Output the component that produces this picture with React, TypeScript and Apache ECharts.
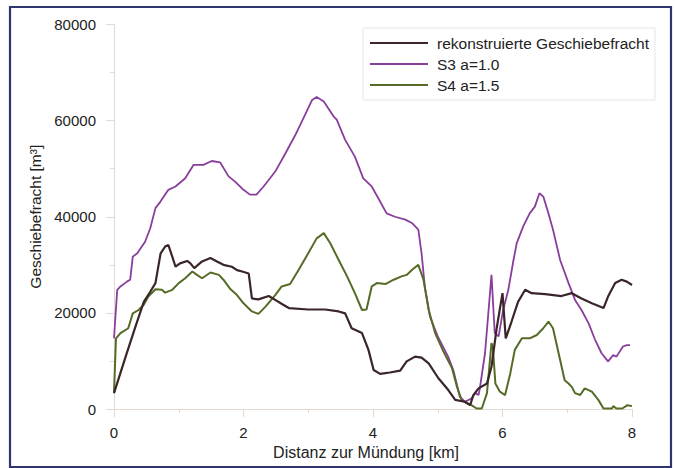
import React, { useEffect, useRef } from "react";
import * as echarts from "echarts";

// [km, m³]
const rekonstruiertData: [number, number][] = [
  [0, 3300], [0.18, 10900], [0.33, 17100], [0.46, 22300], [0.56, 24400], [0.64, 26200],
  [0.72, 32400], [0.79, 33800], [0.84, 34100], [0.9, 31700], [0.95, 29600], [1.02, 30300],
  [1.13, 30800], [1.18, 30300], [1.24, 29300], [1.36, 30700], [1.49, 31400], [1.59, 30700],
  [1.69, 30000], [1.82, 29600], [1.9, 28900], [1.98, 28600], [2.08, 28200], [2.13, 23000],
  [2.23, 22800], [2.39, 23500], [2.49, 22700], [2.6, 21800], [2.7, 21000], [3.0, 20700],
  [3.26, 20700], [3.47, 20300], [3.57, 19900], [3.67, 16800], [3.83, 15800], [3.93, 12300],
  [4.01, 8100], [4.11, 7300], [4.26, 7600], [4.42, 8000], [4.52, 9900], [4.65, 10900],
  [4.75, 10700], [4.86, 9500], [5.01, 6400], [5.16, 4000], [5.27, 1900], [5.42, 1500],
  [5.5, 800], [5.55, 2900], [5.63, 4300], [5.76, 5300], [5.83, 8800], [5.91, 16800],
  [6.0, 24100], [6.05, 14700], [6.14, 18200], [6.24, 22300], [6.35, 24800], [6.45, 24100],
  [6.66, 23900], [6.91, 23500], [7.07, 24100], [7.22, 23000], [7.38, 22000], [7.56, 21000],
  [7.63, 23400], [7.74, 26200], [7.84, 26900], [7.92, 26500], [8.0, 25800],
];

const s3Data: [number, number][] = [
  [0, 14700], [0.05, 24800], [0.1, 25500], [0.2, 26500], [0.25, 26900], [0.29, 31700],
  [0.36, 32400], [0.43, 33800], [0.48, 34800], [0.56, 37600], [0.64, 41800], [0.72, 43200],
  [0.84, 45600], [0.95, 46300], [1.1, 48000], [1.23, 50800], [1.38, 50800], [1.51, 51600],
  [1.64, 51300], [1.77, 48400], [1.87, 47300], [2.0, 45600], [2.1, 44600], [2.2, 44600],
  [2.31, 46300], [2.41, 48000], [2.49, 49400], [2.64, 53000], [2.8, 57000], [2.95, 61200],
  [3.06, 64300], [3.13, 64900], [3.24, 64000], [3.39, 60900], [3.44, 60200], [3.57, 56000],
  [3.72, 52500], [3.85, 48000], [3.98, 46300], [4.08, 43900], [4.21, 40700], [4.34, 40000],
  [4.5, 39400], [4.6, 38700], [4.7, 37300], [4.75, 32400], [4.8, 25500], [4.88, 19200],
  [5.0, 15100], [5.16, 10900], [5.24, 8100], [5.34, 2600], [5.42, 1500], [5.52, 2200],
  [5.58, 3300], [5.63, 2900], [5.65, 4300], [5.73, 11600], [5.83, 27900], [5.88, 15800],
  [5.94, 15100], [6.01, 20600], [6.09, 24800], [6.17, 31000], [6.22, 34500], [6.32, 38000],
  [6.42, 40700], [6.5, 42100], [6.57, 44900], [6.63, 44200], [6.71, 40700], [6.78, 37300],
  [6.89, 31000], [7.02, 26200], [7.12, 22700], [7.22, 20600], [7.33, 17800], [7.43, 14400],
  [7.53, 11600], [7.63, 9900], [7.71, 11200], [7.76, 10900], [7.86, 13000], [7.92, 13300],
  [7.97, 13300],
];

const s4Data: [number, number][] = [
  [0, 3300], [0.03, 14700], [0.1, 15800], [0.22, 16800], [0.29, 19900], [0.38, 20600],
  [0.46, 21700], [0.53, 23400], [0.64, 24900], [0.74, 24800], [0.79, 24200], [0.9, 24800],
  [1.0, 26200], [1.1, 27200], [1.21, 28600], [1.28, 27900], [1.36, 27200], [1.49, 28400],
  [1.62, 27900], [1.69, 26900], [1.8, 24900], [1.9, 23700], [2.0, 22000], [2.13, 20300],
  [2.23, 19800], [2.34, 21300], [2.49, 23700], [2.59, 25500], [2.72, 26000], [2.85, 28900],
  [3.0, 32400], [3.13, 35500], [3.24, 36600], [3.34, 34500], [3.47, 31000], [3.6, 27600],
  [3.72, 24100], [3.83, 20600], [3.9, 20700], [3.98, 25500], [4.06, 26200], [4.19, 26000],
  [4.32, 26900], [4.44, 27600], [4.52, 27900], [4.6, 28900], [4.7, 30000], [4.78, 26900],
  [4.86, 20600], [4.96, 15800], [5.09, 11900], [5.22, 8500], [5.3, 4500], [5.37, 1800],
  [5.45, 1200], [5.52, 800], [5.6, 100], [5.68, 100], [5.76, 3300], [5.83, 13700],
  [5.85, 13000], [5.89, 5300], [5.96, 3600], [6.04, 2900], [6.12, 7400], [6.19, 12300],
  [6.3, 14700], [6.42, 14700], [6.53, 15400], [6.63, 16800], [6.71, 18200], [6.78, 16800],
  [6.89, 10200], [6.96, 6000], [7.02, 5300], [7.07, 4600], [7.12, 3300], [7.2, 2900],
  [7.27, 4300], [7.38, 3600], [7.48, 1900], [7.56, 100], [7.69, 100], [7.71, 600],
  [7.76, 100], [7.85, 100], [7.93, 800], [8.0, 600],
];

const seriesNames = ["rekonstruierte Geschiebefracht", "S3 a=1.0", "S4 a=1.5"];

const FONT = "Liberation Sans, Arial, sans-serif";

const App: React.FC = () => {
  const chartRef = useRef<HTMLDivElement>(null);

  useEffect(() => {
    if (!chartRef.current) return;
    const chart = echarts.init(chartRef.current, undefined, { renderer: "svg" });

    const faint = "#e2d9d2";
    const ink = "#222";

    chart.setOption({
      animation: false,
      backgroundColor: "#fff",
      textStyle: { fontFamily: FONT },
      grid: { left: 114, right: 43, top: 24.5, bottom: 59 },
      legend: {
        orient: "vertical",
        left: 363,
        top: 28,
        padding: [7, 6, 7, 7],
        itemGap: 5,
        itemWidth: 58,
        itemHeight: 2,
        icon: "rect",
        borderColor: "#e6e6e6",
        borderWidth: 1,
        backgroundColor: "#fff",
        textStyle: { fontSize: 15.5, color: ink, fontFamily: FONT, padding: [0, 0, 0, 4] },
        data: seriesNames,
      },
      xAxis: {
        type: "value",
        min: 0,
        max: 8,
        interval: 2,
        name: "Distanz zur Mündung [km]",
        nameLocation: "middle",
        nameGap: 33,
        nameTextStyle: { fontSize: 16, color: ink, fontFamily: FONT, padding: [0, 14, 0, 0] },
        axisLine: { show: true, lineStyle: { color: faint, width: 1 } },
        axisTick: { show: true, length: 8, lineStyle: { color: faint } },
        minorTick: { show: true, splitNumber: 2, length: 4, lineStyle: { color: faint } },
        axisLabel: { fontSize: 15, color: ink, margin: 16, fontFamily: FONT },
        splitLine: { show: false },
      },
      yAxis: {
        type: "value",
        min: 0,
        max: 80000,
        interval: 20000,
        name: "Geschiebefracht [m³]",
        nameLocation: "middle",
        nameGap: 66,
        nameTextStyle: { fontSize: 15.5, color: ink, fontFamily: FONT },
        axisLine: { show: true, lineStyle: { color: faint, width: 1 } },
        axisTick: { show: true, length: 8, lineStyle: { color: faint } },
        minorTick: { show: true, splitNumber: 2, length: 4, lineStyle: { color: faint } },
        axisLabel: {
          fontSize: 15,
          color: ink,
          margin: 18,
          fontFamily: FONT,
          formatter: (v: number) => String(v),
        },
        splitLine: { show: false },
      },
      series: [
        {
          name: seriesNames[0],
          type: "line",
          data: rekonstruiertData,
          showSymbol: false,
          symbol: "none",
          color: "#3a2628",
          lineStyle: { width: 2.2, color: "#3a2628" },
          z: 3,
        },
        {
          name: seriesNames[1],
          type: "line",
          data: s3Data,
          showSymbol: false,
          symbol: "none",
          color: "#8a3e9c",
          lineStyle: { width: 1.8, color: "#8a3e9c" },
          z: 2,
        },
        {
          name: seriesNames[2],
          type: "line",
          data: s4Data,
          showSymbol: false,
          symbol: "none",
          color: "#556b27",
          lineStyle: { width: 2, color: "#556b27" },
          z: 2,
        },
      ],
      graphic: [
        {
          type: "rect",
          shape: { x: 10, y: 7, width: 661, height: 460 },
          style: { fill: "none", stroke: "#30356f", lineWidth: 2.2 },
          silent: true,
          z: 10,
        },
      ],
    });

    return () => {
      chart.dispose();
    };
  }, []);

  return (
    <div
      ref={chartRef}
      style={{ position: "fixed", left: 0, top: 0, width: 675, height: 468 }}
    />
  );
};

export default App;
